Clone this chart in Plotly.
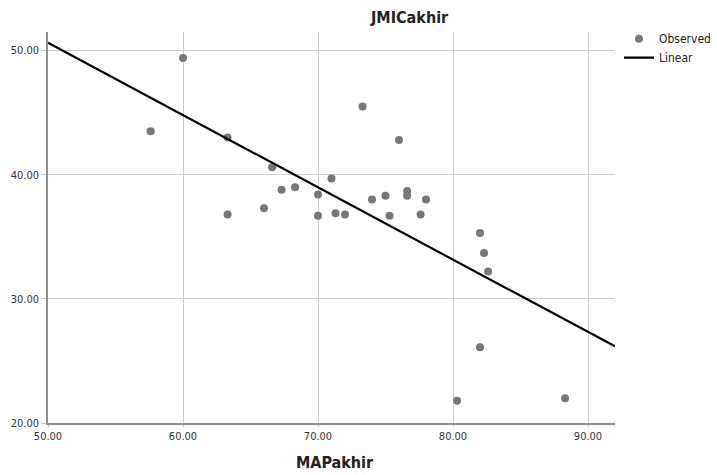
import numpy as np
import plotly.graph_objects as go

# Observed data (MAPakhir vs JMICakhir)
map_akhir = [57.6, 60.0, 63.3, 63.3, 66.0, 66.6, 67.3, 68.3, 70.0, 70.0,
             71.0, 71.3, 72.0, 73.3, 74.0, 75.0, 75.3, 76.0, 76.6, 76.6,
             77.6, 78.0, 82.0, 82.3, 82.6, 82.0, 80.3, 88.3]
jmi_akhir = [43.5, 49.4, 43.0, 36.8, 37.3, 40.6, 38.8, 39.0, 38.4, 36.7,
             39.7, 36.9, 36.8, 45.5, 38.0, 38.3, 36.7, 42.8, 38.7, 38.3,
             36.8, 38.0, 35.3, 33.7, 32.2, 26.1, 21.8, 22.0]

x_range = [50, 92]
y_range = [20, 51.5]
x_ticks = [50, 60, 70, 80, 90]
y_ticks = [20, 30, 40, 50]

slope, intercept = np.polyfit(map_akhir, jmi_akhir, 1)
line_x = np.array(x_range, dtype=float)
line_y = intercept + slope * line_x

font_main = "DejaVu Sans Condensed, Liberation Sans Narrow, Arial, sans-serif"

fig = go.Figure()
fig.add_trace(go.Scatter(
    x=map_akhir, y=jmi_akhir, mode="markers", name="Observed",
    marker=dict(color="#777777", size=8, line=dict(width=0)),
))
fig.add_trace(go.Scatter(
    x=line_x, y=line_y, mode="lines", name="Linear",
    line=dict(color="black", width=2.2),
))

axis_common = dict(
    showgrid=True, gridcolor="#cccccc", gridwidth=1,
    showline=True, linecolor="#8f8f8f", linewidth=1.5,
    ticks="outside", tickcolor="#cccccc",
    zeroline=False, tickformat=".2f",
    tickfont=dict(family=font_main, size=11, color="#333333"),
)

fig.update_layout(
    width=717, height=475,
    margin=dict(l=48, r=102, t=32, b=52, autoexpand=False),
    paper_bgcolor="white", plot_bgcolor="white",
    font=dict(family=font_main, color="#222222"),
    xaxis=dict(range=x_range, tickvals=x_ticks, ticklen=2, **axis_common),
    yaxis=dict(range=y_range, tickvals=y_ticks, ticklen=5, **axis_common),
    showlegend=True,
    legend=dict(x=1.007, y=1.02, xanchor="left", yanchor="top",
                font=dict(family=font_main, size=12, color="#222222"),
                bgcolor="rgba(0,0,0,0)", tracegroupgap=0, itemwidth=30),
    annotations=[
        dict(text="<b>JMICakhir</b>", xref="paper", yref="paper", x=0.638, y=1.0,
             xanchor="center", yanchor="bottom", yshift=3, showarrow=False,
             font=dict(family=font_main, size=16, color="#222222")),
        dict(text="<b>MAPakhir</b>", xref="paper", yref="paper", x=0.506, y=0.0,
             xanchor="center", yanchor="middle", yshift=-39, showarrow=False,
             font=dict(family=font_main, size=16, color="#222222")),
    ],
)

fig.write_html("out.html")
